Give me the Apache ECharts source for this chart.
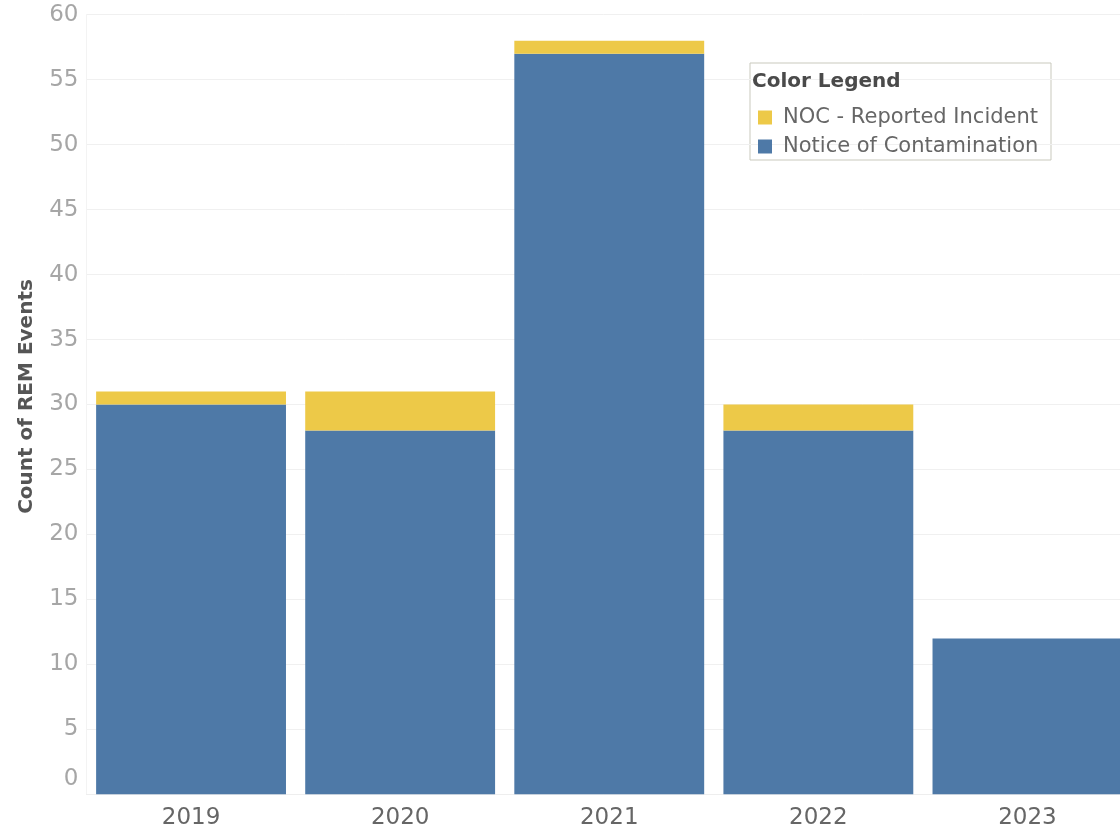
<!DOCTYPE html>
<html>
<head>
<meta charset="utf-8">
<script src="https://cdn.jsdelivr.net/npm/echarts@6/dist/echarts.min.js"></script>
<style>
html,body{margin:0;padding:0;background:#fff;}
#chart{width:1120px;height:829px;}
</style>
</head>
<body>
<div id="chart"></div>
<script>
const years = ['2019', '2020', '2021', '2022', '2023'];
const noticeOfContamination = [30, 28, 57, 28, 12];
const nocReportedIncident = [1, 3, 1, 2, 0];
const yTicks = { min: 0, max: 60, interval: 5 };

const FONT = 'DejaVu Sans';
const chart = echarts.init(document.getElementById('chart'), null, { renderer: 'canvas' });
chart.setOption({
  animation: false,
  backgroundColor: '#ffffff',
  grid: { left: 86.5, width: 1045.5, top: 14.7, height: 779.6, containLabel: false, outerBoundsMode: 'none' },
  xAxis: {
    type: 'category',
    data: years,
    axisLine: { show: true, lineStyle: { color: '#eeeeee', width: 1 } },
    axisTick: { show: false },
    axisLabel: { color: '#666666', fontFamily: FONT, fontSize: 23, margin: 12 }
  },
  yAxis: {
    type: 'value',
    min: yTicks.min, max: yTicks.max, interval: yTicks.interval,
    name: 'Count of REM Events',
    nameLocation: 'middle',
    nameGap: 50,
    nameRotate: 90,
    nameTextStyle: { color: '#555555', fontFamily: FONT, fontSize: 20, fontWeight: 'bold', padding: [0, 0, 0, 16] },
    axisLine: { show: true, lineStyle: { color: '#f3f3f3', width: 1 } },
    axisTick: { show: false },
    splitLine: { show: true, lineStyle: { color: '#f0f0f0', width: 1 } },
    axisLabel: {
      color: '#a6a6a6', fontFamily: FONT, fontSize: 23, margin: 8,
      formatter: function (v) { return v === 0 ? '{z|0}' : String(v); },
      rich: { z: { color: '#a6a6a6', fontFamily: FONT, fontSize: 23, padding: [0, 0, 30, 0] } }
    }
  },
  legend: {
    data: ['NOC - Reported Incident', 'Notice of Contamination'],
    orient: 'vertical',
    left: 753, top: 102,
    icon: 'rect',
    itemWidth: 14, itemHeight: 14,
    itemGap: 8,
    textStyle: { color: '#666666', fontFamily: FONT, fontSize: 21, padding: [0, 0, 0, 6] }
  },
  graphic: [
    { type: 'rect', left: 749.5, top: 62.5, shape: { width: 301, height: 97 }, style: { fill: '#ffffff', stroke: '#c9c9bd', lineWidth: 1 }, z: 0 },
    { type: 'text', left: 752, top: 72, style: { text: 'Color Legend', fill: '#4a4a4a', font: 'bold 20px "DejaVu Sans"' }, z: 10 }
  ],
  series: [
    {
      name: 'Notice of Contamination', type: 'bar', stack: 'total',
      data: noticeOfContamination, barCategoryGap: '9.2%',
      itemStyle: { color: '#4e79a7' }
    },
    {
      name: 'NOC - Reported Incident', type: 'bar', stack: 'total',
      data: nocReportedIncident,
      itemStyle: { color: '#edc948' }
    }
  ]
});
</script>
</body>
</html>
